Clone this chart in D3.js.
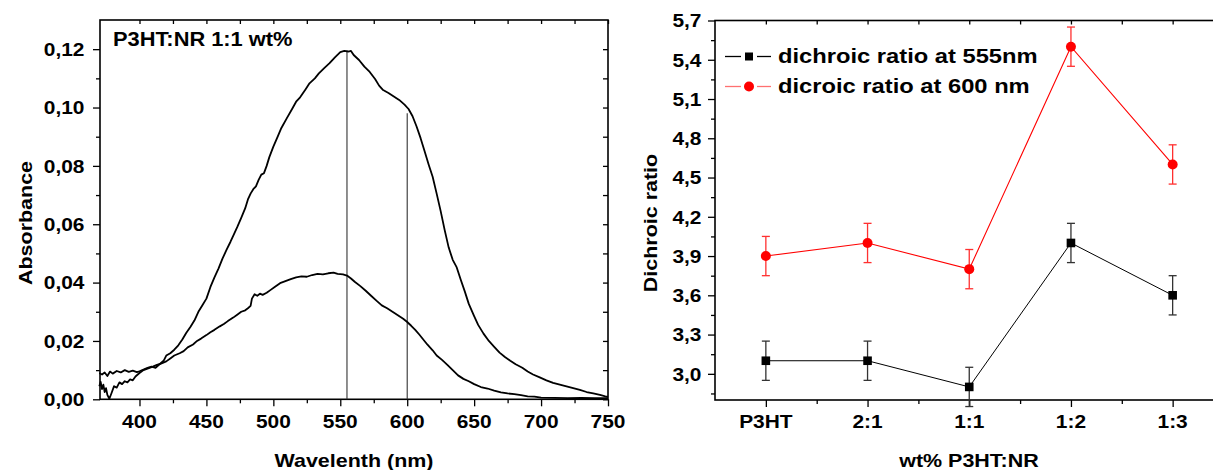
<!DOCTYPE html>
<html><head><meta charset="utf-8">
<script src="https://cdn.jsdelivr.net/npm/d3@7/dist/d3.min.js"></script>
<style>
html,body{margin:0;padding:0;background:#fff;}
svg text{font-family:"Liberation Sans",Arial,sans-serif;font-weight:bold;fill:#000;}
</style></head>
<body><svg id="c" width="1213" height="470"></svg>
<script>
// ---------- DATA ----------
// Left panel: absorbance spectra (wavelength nm, absorbance)
const specWavelengthA = [370,372,374,376,378,380,383,386,389,392,395,398,400,403,406,409,412,415,418,420,423,426,429,432,435,438,441,444,447,450,453,456,459,462,465,468,470,473,476,479,481,483,485,487,489,491,493,495,497,500,503,506,510,514,517,520,524,527,531,534,538,542,546,550,553,556,558,560,564,568,572,576,579,582,586,590,594,598,601,604,607,610,613,616,619,622,625,628,631,634,637,640,643,646,650,653,657,661,665,669,673,677,681,686,690,694,699,704,709,714,719,724,729,734,739,744,748,750];
const specAbsA = [0.0090,0.0085,0.0092,0.0080,0.0095,0.0088,0.0097,0.0092,0.0100,0.0094,0.0098,0.0093,0.0096,0.0102,0.0108,0.0112,0.0108,0.0120,0.0132,0.0150,0.0158,0.0170,0.0185,0.0205,0.0228,0.0248,0.0270,0.0300,0.0322,0.0345,0.0385,0.0418,0.0448,0.0482,0.0512,0.0540,0.0560,0.0590,0.0622,0.0655,0.0685,0.0705,0.0720,0.0730,0.0752,0.0770,0.0775,0.0800,0.0830,0.0866,0.0898,0.0930,0.0963,0.0995,0.1020,0.1035,0.1062,0.1083,0.1100,0.1117,0.1135,0.1152,0.1172,0.1190,0.1194,0.1192,0.1194,0.1180,0.1163,0.1140,0.1122,0.1098,0.1075,0.1060,0.1050,0.1038,0.1026,0.1010,0.0995,0.0970,0.0935,0.0895,0.0850,0.0805,0.0763,0.0705,0.0645,0.0580,0.0520,0.0478,0.0452,0.0410,0.0370,0.0327,0.0285,0.0255,0.0225,0.0200,0.0180,0.0160,0.0145,0.0132,0.0120,0.0108,0.0095,0.0085,0.0075,0.0065,0.0056,0.0050,0.0044,0.0038,0.0032,0.0025,0.0020,0.0015,0.0010,0.0008];
const specWavelengthB = [370,371,372,373,374,375,376,377.5,379,381,383,385,387,389,391,393,395,397,400,403,406,410,413,416,420,423,426,430,433,436,440,443,446,450,453,456,460,463,466,470,473,476,479,481,483,484,486,488,490,492,495,498,501,505,509,513,517,521,525,529,533,537,541,545,548,552,555,558,561,565,569,573,577,581,585,589,593,597,600,603,606,609,612,615,619,622,626,630,634,638,642,646,650,655,660,665,670,675,680,685,690,695,700,710,720,730,740,750];
const specAbsB = [0.0045,0.0060,0.0035,0.0050,0.0025,0.0038,0.0015,0.0002,0.0020,0.0045,0.0040,0.0058,0.0052,0.0062,0.0058,0.0068,0.0065,0.0078,0.0090,0.0100,0.0105,0.0112,0.0118,0.0122,0.0130,0.0140,0.0150,0.0158,0.0165,0.0178,0.0188,0.0200,0.0208,0.0220,0.0230,0.0238,0.0250,0.0258,0.0268,0.0280,0.0290,0.0300,0.0305,0.0312,0.0320,0.0345,0.0360,0.0355,0.0362,0.0358,0.0365,0.0375,0.0385,0.0398,0.0405,0.0412,0.0418,0.0421,0.0420,0.0426,0.0430,0.0428,0.0432,0.0434,0.0430,0.0428,0.0424,0.0414,0.0402,0.0388,0.0372,0.0355,0.0338,0.0322,0.0312,0.0300,0.0288,0.0276,0.0265,0.0252,0.0238,0.0222,0.0205,0.0188,0.0168,0.0150,0.0135,0.0118,0.0100,0.0082,0.0070,0.0062,0.0052,0.0042,0.0037,0.0030,0.0024,0.0020,0.0018,0.0014,0.0010,0.0009,0.0006,0.0005,0.0004,0.0005,0.0004,0.0004];
const markerWavelengths = [555, 600];
const markerTops = [0.1195, 0.098];
const specTitle = "P3HT:NR 1:1 wt%";
const wlTicks = [400,450,500,550,600,650,700,750];
const wlTickLabels = ["400","450","500","550","600","650","700","750"];
const wlMinor = [425,475,525,575,625,675,725];
const absTicks = [0,0.02,0.04,0.06,0.08,0.10,0.12];
const absTickLabels = ["0,00","0,02","0,04","0,06","0,08","0,10","0,12"];
const absMinor = [0.01,0.03,0.05,0.07,0.09,0.11];

// Right panel: dichroic ratio
const categories = ["P3HT","2:1","1:1","1:2","1:3"];
const ratio555 = [3.1, 3.1, 2.9, 4.0, 3.6];
const err555 = [0.15, 0.15, 0.15, 0.15, 0.15];
const ratio600 = [3.9, 4.0, 3.8, 5.5, 4.6];
const err600 = [0.15, 0.15, 0.15, 0.15, 0.15];
const seriesNames = ["dichroic ratio at 555nm", "dicroic ratio at 600 nm"];
const drTicks = [3.0,3.3,3.6,3.9,4.2,4.5,4.8,5.1,5.4,5.7];
const drTickLabels = ["3,0","3,3","3,6","3,9","4,2","4,5","4,8","5,1","5,4","5,7"];
const drMinor = [2.85,3.15,3.45,3.75,4.05,4.35,4.65,4.95,5.25,5.55];

// ---------- DRAW ----------
const svg = d3.select("#c");
const AX = 1.6;

function txt(x, y, s, size, sx, anchor, rot) {
  return svg.append("text")
    .attr("transform", `translate(${x},${y}) rotate(${rot||0}) scale(${sx},1)`)
    .attr("text-anchor", anchor || "middle")
    .style("font-size", size + "px")
    .text(s);
}

function styleAxis(g) {
  g.select(".domain").remove();
  g.selectAll("line").attr("stroke", "#000").attr("stroke-width", 1.3);
}

// ===== Left panel =====
const L = {x0: 100, x1: 608, y0: 399.3, y1: 20};
const xW = d3.scaleLinear().domain([370.5, 750]).range([L.x0, L.x1]);
const yA = d3.scaleLinear().domain([0, 0.13]).range([L.y0, L.y1]);

// ticks
const gb = svg.append("g").attr("transform", `translate(0,${L.y0})`)
  .call(d3.axisBottom(xW).tickValues(wlTicks).tickSize(7).tickFormat(""));
styleAxis(gb);
const gbm = svg.append("g").attr("transform", `translate(0,${L.y0})`)
  .call(d3.axisBottom(xW).tickValues(wlMinor).tickSize(4).tickFormat(""));
styleAxis(gbm);
const gt = svg.append("g").attr("transform", `translate(0,${L.y1})`)
  .call(d3.axisTop(xW).tickValues(wlTicks.concat(wlMinor)).tickSize(-4).tickFormat(""));
styleAxis(gt);
const gl = svg.append("g").attr("transform", `translate(${L.x0},0)`)
  .call(d3.axisLeft(yA).tickValues(absTicks).tickSize(7).tickFormat(""));
styleAxis(gl);
const glm = svg.append("g").attr("transform", `translate(${L.x0},0)`)
  .call(d3.axisLeft(yA).tickValues(absMinor).tickSize(4).tickFormat(""));
styleAxis(glm);
const gr = svg.append("g").attr("transform", `translate(${L.x1},0)`)
  .call(d3.axisRight(yA).tickValues(absTicks.concat(absMinor)).tickSize(-5).tickFormat(""));
styleAxis(gr);

wlTicks.forEach((v, i) => txt(xW(v), 428, wlTickLabels[i], 19, 1.1, "middle"));
absTicks.forEach((v, i) => txt(L.x0 - 15.5, yA(v) + 6.8, absTickLabels[i], 19, 1.1, "end"));

// frame
svg.append("rect").attr("x", L.x0).attr("y", L.y1).attr("width", L.x1 - L.x0).attr("height", L.y0 - L.y1)
  .attr("fill", "none").attr("stroke", "#000").attr("stroke-width", AX);

// vertical marker lines
markerWavelengths.forEach((w, i) => {
  svg.append("line").attr("x1", xW(w)).attr("x2", xW(w)).attr("y1", yA(0)).attr("y2", yA(markerTops[i]))
    .attr("stroke", "#333").attr("stroke-width", 1.1);
});

const lineSpec = d3.line().x(d => xW(d[0])).y(d => yA(d[1]));
svg.append("path").datum(specWavelengthA.map((w, i) => [w, specAbsA[i]]))
  .attr("d", lineSpec).attr("fill", "none").attr("stroke", "#000").attr("stroke-width", 1.8).attr("stroke-linejoin", "round");
svg.append("path").datum(specWavelengthB.map((w, i) => [w, specAbsB[i]]))
  .attr("d", lineSpec).attr("fill", "none").attr("stroke", "#000").attr("stroke-width", 1.8).attr("stroke-linejoin", "round");

txt(113, 46, specTitle, 21, 1.04, "start");
txt(354, 466.5, "Wavelenth (nm)", 19, 1.13, "middle");
txt(31.5, 223, "Absorbance", 19, 1.13, "middle", -90);

// ===== Right panel =====
const R = {x0: 715, x1: 1223.5, y0: 400, y1: 20.5};
const xC = d3.scaleLinear().domain([0.5, 5.5]).range([R.x0, R.x1]);
const yR = d3.scaleLinear().domain([2.8, 5.7]).range([R.y0, R.y1]);
const catPos = categories.map((c, i) => i + 1);
const catMinor = [1.5, 2.5, 3.5, 4.5];

const rb = svg.append("g").attr("transform", `translate(0,${R.y0})`)
  .call(d3.axisBottom(xC).tickValues(catPos).tickSize(7).tickFormat(""));
styleAxis(rb);
const rbm = svg.append("g").attr("transform", `translate(0,${R.y0})`)
  .call(d3.axisBottom(xC).tickValues(catMinor).tickSize(4).tickFormat(""));
styleAxis(rbm);
const rt = svg.append("g").attr("transform", `translate(0,${R.y1})`)
  .call(d3.axisTop(xC).tickValues(catPos.concat(catMinor)).tickSize(-4).tickFormat(""));
styleAxis(rt);
const rl = svg.append("g").attr("transform", `translate(${R.x0},0)`)
  .call(d3.axisLeft(yR).tickValues(drTicks).tickSize(7).tickFormat(""));
styleAxis(rl);
const rlm = svg.append("g").attr("transform", `translate(${R.x0},0)`)
  .call(d3.axisLeft(yR).tickValues(drMinor).tickSize(4).tickFormat(""));
styleAxis(rlm);

categories.forEach((c, i) => txt(xC(catPos[i]), 428, c, 19, 1.1, "middle"));
drTicks.forEach((v, i) => txt(R.x0 - 13.5, yR(v) + 6.8, drTickLabels[i], 19, 1.1, "end"));

svg.append("rect").attr("x", R.x0).attr("y", R.y1).attr("width", R.x1 - R.x0).attr("height", R.y0 - R.y1)
  .attr("fill", "none").attr("stroke", "#000").attr("stroke-width", AX);

function series(vals, errs, color, errColor, lw, shape) {
  const pts = vals.map((v, i) => [catPos[i], v, errs[i]]);
  svg.append("path").datum(pts)
    .attr("d", d3.line().x(d => xC(d[0])).y(d => yR(d[1])))
    .attr("fill", "none").attr("stroke", color).attr("stroke-width", lw);
  const eg = svg.append("g").attr("stroke", errColor).attr("stroke-width", 1.3);
  pts.forEach(d => {
    const x = xC(d[0]);
    eg.append("line").attr("x1", x).attr("x2", x).attr("y1", yR(d[1] - d[2])).attr("y2", yR(d[1] + d[2]));
    eg.append("line").attr("x1", x - 4).attr("x2", x + 4).attr("y1", yR(d[1] - d[2])).attr("y2", yR(d[1] - d[2]));
    eg.append("line").attr("x1", x - 4).attr("x2", x + 4).attr("y1", yR(d[1] + d[2])).attr("y2", yR(d[1] + d[2]));
  });
  pts.forEach(d => {
    if (shape === "square") {
      svg.append("rect").attr("x", xC(d[0]) - 4.3).attr("y", yR(d[1]) - 4.3).attr("width", 8.6).attr("height", 8.6).attr("fill", color);
    } else {
      svg.append("circle").attr("cx", xC(d[0])).attr("cy", yR(d[1])).attr("r", 5).attr("fill", color);
    }
  });
}
series(ratio600, err600, "#ff0000", "#ff3030", 1.1, "circle");
series(ratio555, err555, "#000", "#333", 1.0, "square");

// legend
const legY = [56.5, 86.5];
[["#000", "square"], ["#ff7070", "circle"]].forEach((s, i) => {
  const y = legY[i];
  svg.append("line").attr("x1", 725).attr("x2", 741).attr("y1", y).attr("y2", y).attr("stroke", s[0]).attr("stroke-width", 1.3);
  svg.append("line").attr("x1", 757).attr("x2", 771).attr("y1", y).attr("y2", y).attr("stroke", s[0]).attr("stroke-width", 1.3);
  if (s[1] === "square") svg.append("rect").attr("x", 745).attr("y", y - 4).attr("width", 8).attr("height", 8).attr("fill", "#000");
  else svg.append("circle").attr("cx", 749).attr("cy", y).attr("r", 5).attr("fill", "#ff0000");
  txt(778, y + 6, seriesNames[i], 21, 1.13, "start");
});

txt(969, 466.5, "wt% P3HT:NR", 19, 1.13, "middle");
txt(657, 223, "Dichroic ratio", 19, 1.13, "middle", -90);
</script></body></html>
